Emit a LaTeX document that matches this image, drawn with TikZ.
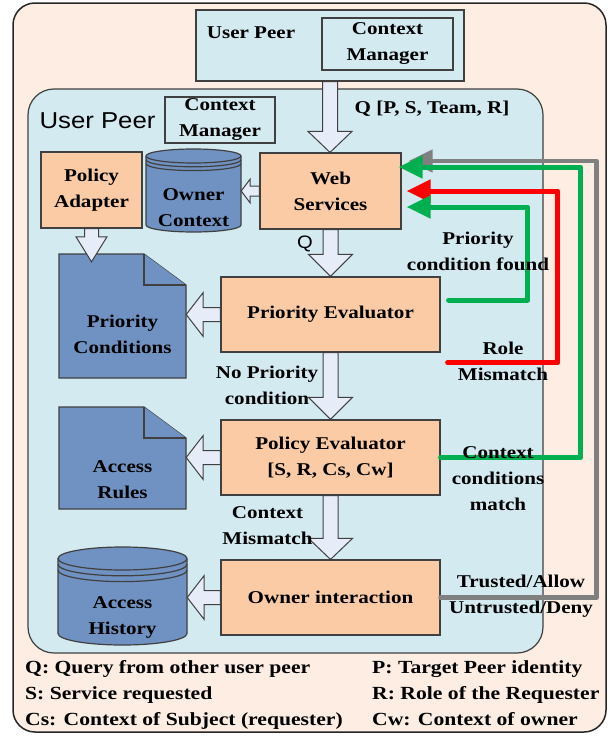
\documentclass[tikz,border=0pt]{standalone}
\usepackage{fontspec}
\setmainfont{Liberation Serif}[FakeStretch=1.17]
\newfontfamily\panelfont{Liberation Sans}[FakeStretch=1.12]
\usepackage{tikz}
\usetikzlibrary{calc, arrows.meta}

\definecolor{outerpeach}{RGB}{253,237,226}
\definecolor{panelblue}{RGB}{210,234,240}
\definecolor{procpeach}{RGB}{250,203,164}
\definecolor{storeblue}{RGB}{112,146,194}
\definecolor{arrowfill}{RGB}{230,236,248}
\definecolor{linegray}{RGB}{64,64,64}
\definecolor{flowgreen}{RGB}{0,176,80}
\definecolor{flowred}{RGB}{255,0,0}
\definecolor{flowgray}{RGB}{128,128,128}

\tikzset{
    ctxbox/.style={draw=linegray, fill=panelblue, line width=1.2pt, align=center, inner sep=0pt},
    procbox/.style={draw=linegray, fill=procpeach, line width=1.2pt, align=center, inner sep=0pt},
    storenode/.style={align=center, inner sep=0pt, text height=#1, text depth=5pt},
    storeshape/.style={draw=linegray, fill=storeblue, line width=1.2pt},
    hollow/.style={draw=linegray, fill=arrowfill, line width=1pt, line join=miter},
    flowline/.style={line width=5pt, line cap=round, line join=round, -{Triangle[length=24pt,width=22pt]}},
    lbl/.style={align=center, inner sep=0pt},
}

% block arrow pointing down: from, to, shaft half width, head half width, head length
\newcommand{\downblock}[5]{%
    \draw[hollow] let \p1=(#1), \p2=(#2) in
        (\x1-#3,\y1) -- (\x1-#3,\y2+#5) -- (\x1-#4,\y2+#5) -- (\x1,\y2)
        -- (\x1+#4,\y2+#5) -- (\x1+#3,\y2+#5) -- (\x1+#3,\y1) -- cycle;}
% block arrow pointing left
\newcommand{\leftblock}[5]{%
    \draw[hollow] let \p1=(#1), \p2=(#2) in
        (\x1,\y1+#3) -- (\x2+#5,\y1+#3) -- (\x2+#5,\y1+#4) -- (\x2,\y1)
        -- (\x2+#5,\y1-#4) -- (\x2+#5,\y1-#3) -- (\x1,\y1-#3) -- cycle;}
% document with folded corner: x1, y1, x2, y2
\newcommand{\docshape}[4]{%
    \draw[storeshape] (#1,#2) -- (#3-42,#2) -- (#3,#2+31) -- (#3,#4) -- (#1,#4) -- cycle;
    \draw[storeshape] (#3-42,#2) -- (#3-42,#2+31) -- (#3,#2+31);}
% database cylinder: x1, top, x2, bottom, y radius, ring gap
\newcommand{\dbshape}[6]{%
    \draw[storeshape] (#1,#2+#5) -- (#1,#4-#5)
        arc[start angle=180, end angle=360, x radius=(#3-#1)/2*1pt, y radius=#5*1pt]
        -- (#3,#2+#5)
        arc[start angle=0, end angle=180, x radius=(#3-#1)/2*1pt, y radius=#5*1pt] -- cycle;
    \foreach \g in {0,1,2}
        \draw[linegray, line width=1.2pt] (#1,#2+#5+\g*#6)
            arc[start angle=180, end angle=360, x radius=(#3-#1)/2*1pt, y radius=#5*1pt];}

\begin{document}
\begin{tikzpicture}[x=1pt, y=-1pt, font=\fontsize{18}{26}\selectfont\bfseries]
    \useasboundingbox (0,0) rectangle (610,736);

    % panels
    \draw[fill=outerpeach, draw=black!85, line width=1.5pt, rounded corners=22pt] (13,3) rectangle (606,732);
    \draw[fill=panelblue, draw=linegray, line width=1.2pt, rounded corners=26pt] (28,89) rectangle (543,653);

    % remote peer
    \node[ctxbox, minimum width=268pt, minimum height=71pt] (topbox) at (330,45.5) {};
    \node[lbl, anchor=base] (toppeer) at (251,38) {User Peer};
    \node[ctxbox, minimum width=131pt, minimum height=52pt] (topcm) at (387.5,44) {Context\\Manager};

    % local peer
    \node[lbl, anchor=base, font=\fontsize{23}{26}\selectfont\panelfont] (peer) at (97.5,128) {User Peer};
    \node[ctxbox, minimum width=110pt, minimum height=46pt] (cm) at (220,120) {Context\\Manager};

    \node[procbox, minimum width=101pt, minimum height=76pt] (pa) at (91.5,190) {Policy\\Adapter};
    \node[procbox, minimum width=141pt, minimum height=76pt] (ws) at (330.5,191) {Web\\Services};
    \node[procbox, minimum width=219pt, minimum height=75pt] (pe) at (330.5,314.5) {Priority Evaluator};
    \node[procbox, minimum width=219pt, minimum height=75pt] (pol) at (330.5,457.5) {Policy Evaluator\\{}[S, R, Cs, Cw]};
    \node[procbox, minimum width=219pt, minimum height=75pt] (oi) at (330.5,597.5) {Owner interaction};

    \dbshape{146}{149}{241}{232}{7}{3.8}
    \node[storenode=76pt, minimum width=95pt, minimum height=83pt] (oc) at (193.5,190.5) {Owner\\Context};
    \docshape{59}{254}{186}{378}
    \node[storenode=79pt, minimum width=127pt, minimum height=124pt] (pc) at (122.5,316) {Priority\\Conditions};
    \docshape{59}{407}{186}{509}
    \node[storenode=86pt, minimum width=127pt, minimum height=102pt] (ar) at (122.5,458) {Access\\Rules};
    \dbshape{58}{547}{187}{645}{11.5}{5.8}
    \node[storenode=82pt, minimum width=129pt, minimum height=98pt] (ah) at (122.5,596) {Access\\History};

    % block arrows
    \downblock{topbox.south}{topbox.south |- ws.north}{7.5pt}{22pt}{21pt}
    \downblock{ws.south}{pe.north}{7.5pt}{22pt}{22pt}
    \downblock{pe.south}{pol.north}{7.5pt}{22pt}{22pt}
    \downblock{pol.south}{oi.north}{7.5pt}{22pt}{21pt}
    \downblock{pa.south}{$(pa.south |- pc.north)+(0,8)$}{7pt}{15.5pt}{25pt}
    \leftblock{ws.west}{oc.east}{5pt}{12pt}{9pt}
    \leftblock{pe.west}{pc.east}{7pt}{22pt}{17pt}
    \leftblock{pol.west}{ar.east}{7pt}{22pt}{17pt}
    \leftblock{oi.west}{ah.east}{7pt}{22pt}{17pt}

    % results back to the web services
    \draw[flowline, draw=flowgray, line width=4.5pt] (oi.east) -- ++(156,0) |- ([xshift=7pt,yshift=30pt]ws.east);
    \draw[flowline, draw=flowgreen] (pol.east) -- ++(140,0) |- ([xshift=-3pt,yshift=24pt]ws.east);
    \draw[flowline, draw=flowred] ([xshift=7pt,yshift=-10pt]pe.south east) -- ++(110,0) |- ([xshift=5pt]ws.east);
    \draw[flowline, draw=flowgreen] ([xshift=8pt,yshift=14.5pt]pe.east) -- ++(79,0) |- ([xshift=5pt,yshift=-16pt]ws.east);

    % labels
    \node[lbl, anchor=base] (qfull) at (432,113) {Q [P, S, Team, R]};
    \node[lbl, font=\fontsize{18}{26}\selectfont\panelfont] (qshort) at (305,244) {Q};
    \node[lbl] (found) at (478,251) {Priority\\condition found};
    \node[lbl] (role) at (503,361) {Role\\Mismatch};
    \node[lbl] (nopri) at (267,385) {No Priority\\condition};
    \node[lbl] (ctxmatch) at (498,479) {Context\\conditions\\match};
    \node[lbl] (ctxmis) at (267.5,526) {Context\\Mismatch};
    \node[lbl] (trust) at (521,596) {Trusted/Allow\\Untrusted/Deny};

    % legend
    \begin{scope}[font=\fontsize{18.5}{26}\selectfont\bfseries]
        \node[lbl, anchor=base west] (legq) at (25,673) {Q: Query from other user peer};
        \node[lbl, anchor=base west] (legs) at (25,699) {S: Service requested};
        \node[lbl, anchor=base west] (legcs) at (25,725) {Cs: Context of Subject (requester)};
        \node[lbl, anchor=base west] (legp) at (372,673) {P: Target Peer identity};
        \node[lbl, anchor=base west] (legr) at (372,699) {R: Role of the Requester};
        \node[lbl, anchor=base west] (legcw) at (372,725) {Cw: Context of owner};
    \end{scope}
\end{tikzpicture}
\end{document}
